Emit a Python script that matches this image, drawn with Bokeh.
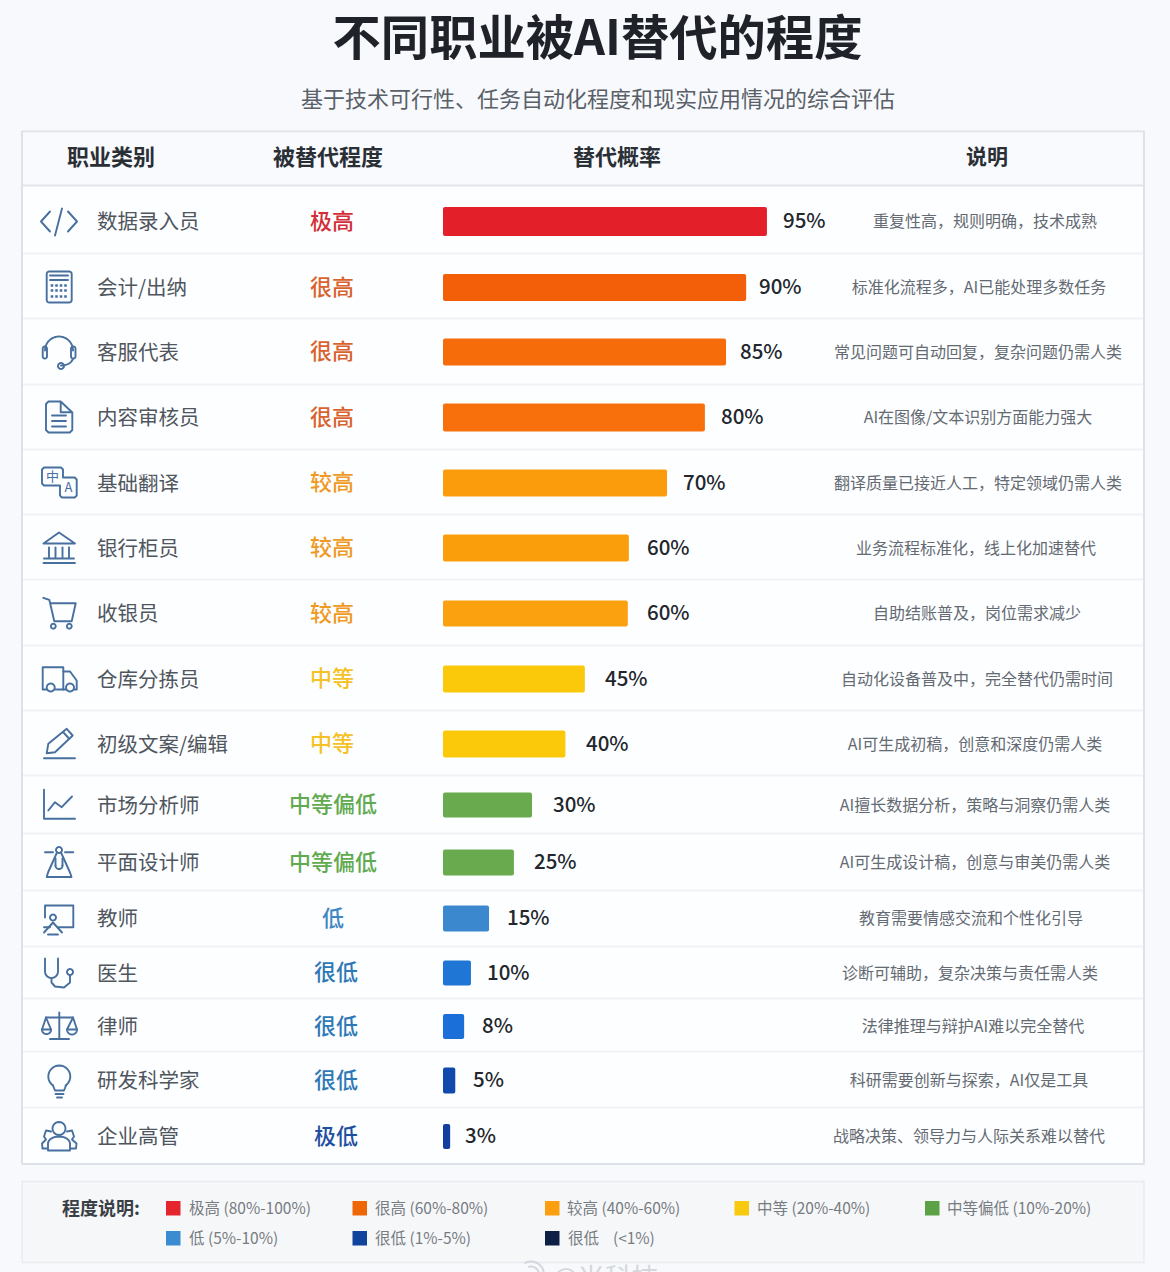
import math
from bokeh.plotting import figure
from bokeh.models import Range1d, ColumnDataSource
from bokeh.core.properties import value
from bokeh.embed import file_html
from bokeh.resources import INLINE

# ---------- data ----------
title = "不同职业被AI替代的程度"
subtitle = "基于技术可行性、任务自动化程度和现实应用情况的综合评估"
headers = ["职业类别", "被替代程度", "替代概率", "说明"]
jobs = ["数据录入员", "会计/出纳", "客服代表", "内容审核员", "基础翻译", "银行柜员", "收银员", "仓库分拣员",
        "初级文案/编辑", "市场分析师", "平面设计师", "教师", "医生", "律师", "研发科学家", "企业高管"]
levels = ["极高", "很高", "很高", "很高", "较高", "较高", "较高", "中等", "中等", "中等偏低", "中等偏低",
          "低", "很低", "很低", "很低", "极低"]
pct_labels = ["95%", "90%", "85%", "80%", "70%", "60%", "60%", "45%", "40%", "30%", "25%", "15%", "10%", "8%", "5%", "3%"]
# bar lengths as drawn in the picture (the source's bars are not strictly proportional to their labels)
bar_values = [95.0, 88.9, 83.0, 76.8, 65.7, 54.5, 54.2, 41.6, 35.9, 26.1, 20.8, 13.5, 8.2, 6.2, 3.6, 2.1]
notes = ["重复性高，规则明确，技术成熟", "标准化流程多，AI已能处理多数任务", "常见问题可自动回复，复杂问题仍需人类",
         "AI在图像/文本识别方面能力强大", "翻译质量已接近人工，特定领域仍需人类", "业务流程标准化，线上化加速替代",
         "自助结账普及，岗位需求减少", "自动化设备普及中，完全替代仍需时间", "AI可生成初稿，创意和深度仍需人类",
         "AI擅长数据分析，策略与洞察仍需人类", "AI可生成设计稿，创意与审美仍需人类", "教育需要情感交流和个性化引导",
         "诊断可辅助，复杂决策与责任需人类", "法律推理与辩护AI难以完全替代", "科研需要创新与探索，AI仅是工具",
         "战略决策、领导力与人际关系难以替代"]
legend_title = "程度说明:"
legend_labels = ["极高 (80%-100%)", "很高 (60%-80%)", "较高 (40%-60%)", "中等 (20%-40%)", "中等偏低 (10%-20%)",
                 "低 (5%-10%)", "很低 (1%-5%)", "很低\u00a0\u00a0\u00a0\u00a0(<1%)"]
watermark = "@米科技"

# ---------- styles / layout ----------
FONT = value("Noto Sans CJK SC")
MEDIUM = value("Noto Sans CJK SC Medium")
bar_colors = ["#e32029", "#f25f08", "#f76c0a", "#f7700c", "#fb9c0c", "#fb9e0c", "#fba00e", "#fcc80a", "#fcc80a",
              "#6aaa4f", "#6aaa4f", "#3b88cf", "#1f76d4", "#1a6fd8", "#1149ad", "#123f9f"]
level_colors = ["#d42f38", "#d9632f", "#d9632f", "#d9632f", "#ee9a24", "#ee9a24", "#ee9a24", "#f4c226", "#f4c226",
                "#62aa50", "#62aa50", "#3f86c4", "#2f78b6", "#2f78b6", "#2f78b6", "#1f4f9f"]
legend_colors = ["#e5252e", "#ee6606", "#fb9e0f", "#f9c90e", "#5ba246", "#3b8bd0", "#0f439c", "#0e1f45"]
row_y = [221, 287, 351.5, 417, 482.5, 547.5, 613, 678.5, 743.5, 804.5, 862, 918, 972.5, 1026, 1080, 1136]
bar_h = [29, 27, 27, 28, 27, 27, 26, 27, 27, 25, 26, 26, 25, 25, 26, 25]
seps = [253, 318, 384, 449, 514, 579, 645, 710, 775, 833, 890, 946, 998, 1051, 1107]
label_x = [783, 759, 740, 721, 683, 647, 647, 605, 586, 553, 534, 507, 487, 482, 473, 465]
level_x = [332, 332, 332, 332, 332, 332, 332, 332, 332, 333, 333, 333, 336, 336, 336, 336]
note_x = [985, 979, 978, 978, 978, 976, 977, 977, 975, 975, 975, 971, 970, 973, 969, 969]
header_x = [111, 328, 617, 987]
leg_x = [166, 352.5, 545, 734.5, 925, 166, 352.5, 545]
leg_tx = [189, 375, 567, 757, 947, 189, 375, 568]
leg_y = [1208] * 5 + [1238] * 3
INK = "#48709f"
WM = "#d3d7dd"
BG = "#f7f9fc"

W, H = 1170, 1272
PX = 3.41          # pixels per percentage point
X0 = 443           # zero of the bar scale
S0 = 0.5           # sub-pixel registration of the page

# the main ranges are the picture's own pixels, the bars use a percentage range on top
p = figure(width=W, height=H, x_range=Range1d(S0, W + S0), y_range=Range1d(H, 0),
           output_backend="svg", toolbar_location=None, min_border=0, outline_line_color=None,
           background_fill_color=BG, border_fill_color=BG)
p.axis.visible = False
p.grid.visible = False
p.extra_x_ranges["pct"] = Range1d((S0 - X0) / PX, (W + S0 - X0) / PX)


def text(x, y, t, size, color, bold=False, align="center"):
    p.text([x], [y], text=[t], text_font=FONT, text_font_size=f"{size}px", text_color=color,
           text_font_style="bold" if bold else "normal", text_align=align, text_baseline="middle")


# frames
p.quad(left=[22], right=[1144], top=[131], bottom=[1163.5], fill_color="#fdfeff", line_color="#dde1e8", line_width=2)
p.quad(left=[23], right=[1143], top=[132], bottom=[185], fill_color="#f9fafd", line_color=None)
p.segment([22], [185], [1144], [185], line_color="#e1e5eb", line_width=2)
p.segment([23] * len(seps), seps, [1143] * len(seps), seps, line_color="#f0f2f6", line_width=2)
p.quad(left=[22], right=[1144], top=[1181], bottom=[1262], fill_color="#f6f7f9", line_color="#e9ebf0", line_width=1.5)

# titles
text(597.5, 33, title, 48.3, "#1f2329", bold=True)
text(598, 96, subtitle, 22, "#596068")
for hx, h in zip(header_x, headers):
    text(hx, 154, h, 22 if len(h) != 2 else 21, "#2a2f36", bold=True)

# rows
src = ColumnDataSource(dict(y=row_y, h=bar_h, right=bar_values, left=[0] * 16, c=bar_colors))
p.hbar(y="y", height="h", left="left", right="right", fill_color="c", line_color=None, border_radius=2,
       source=src, x_range_name="pct")
p.text(x=[97] * 16, y=[y - 1.5 for y in row_y], text=jobs, text_font=FONT, text_font_size="20.5px", text_color="#50565e",
       text_align="left", text_baseline="middle")
p.text(x=level_x, y=[y - 3 for y in row_y], text=levels, text_font=MEDIUM, text_font_size="22px", text_color=level_colors,
       text_align="center", text_baseline="middle")
p.text(x=label_x, y=[y - 2.5 for y in row_y], text=pct_labels, text_font=MEDIUM, text_font_size="20.5px",
       text_color="#23272d", text_align="left", text_baseline="middle")
p.text(x=note_x, y=[y - 1.5 for y in row_y], text=notes, text_font=FONT, text_font_size="16px", text_color="#646a72",
       text_align="center", text_baseline="middle")

# legend
text(62, 1206, legend_title, 18, "#3a3f46", bold=True, align="left")
for x, tx, y, c, t in zip(leg_x, leg_tx, leg_y, legend_colors, legend_labels):
    p.quad(left=[x], right=[x + 14.5], top=[y - 7.5], bottom=[y + 7], fill_color=c, line_color=None)
    text(tx, y - 2, t, 15.5, "#777c83", align="left")


# ---------- icons (decoration, stroked in the picture's pixels) ----------
def arc(cx, cy, r, a0, a1, ry=None, n=24):
    ry = r if ry is None else ry
    return [(cx + r * math.cos(math.radians(a0 + (a1 - a0) * i / n)),
             cy + ry * math.sin(math.radians(a0 + (a1 - a0) * i / n))) for i in range(n + 1)]


def rrect(x0, y0, x1, y1, r=2.5):
    return (arc(x0 + r, y0 + r, r, 180, 270, n=5) + arc(x1 - r, y0 + r, r, 270, 360, n=5) +
            arc(x1 - r, y1 - r, r, 0, 90, n=5) + arc(x0 + r, y1 - r, r, 90, 180, n=5) + [(x0, y0 + r)])


strokes = [
    # code
    [(50, 211), (41, 221), (50, 231)], [(62, 208), (55, 235)], [(68, 211), (77, 221), (68, 231)],
    # calculator
    rrect(46.7, 271, 71.7, 302), [(50, 275), (68, 275)], [(50, 279.5), (68, 279.5)],
    # headset
    arc(59, 350, 14, 180, 360), rrect(42.7, 346, 47, 358, 2), rrect(71, 346, 75.5, 358, 2),
    arc(61, 357, 12, 10, 90, ry=8), arc(61, 365.5, 3, 0, 360),
    # document
    [(60.7, 401), (48.5, 401), (46, 403.5), (46, 429.5), (48.5, 432), (69.8, 432), (72.3, 429.5), (72.3, 412), (60.7, 401), (60.7, 411.7), (72.3, 411.7)],
    [(52, 415), (66, 415)], [(52, 420.5), (66, 420.5)], [(52, 426), (66, 426)],
    # translate: one outline, back panel stepping into the front panel
    [(60, 485), (44, 485), (42, 483), (42, 469), (44, 467), (61, 467), (63, 469), (63, 477), (74.7, 477), (76.7, 479),
     (76.7, 495), (74.7, 497), (62, 497), (60, 495), (60, 485)],
    # bank
    [(43.5, 543), (59, 532), (75, 543), (43.5, 543)], [(49, 547), (49, 557)], [(55.5, 547), (55.5, 557)],
    [(62.5, 547), (62.5, 557)], [(69, 547), (69, 557)], [(44, 558), (74, 558)], [(43.5, 562.5), (75, 562.5)],
    # cart
    [(43.3, 597.3), (49.3, 599.3), (54.3, 620.7), (71.7, 620.7), (75.7, 602.7), (50.3, 602.7)],
    arc(53.3, 625.7, 2.4, 0, 360), arc(69.3, 625.7, 2.4, 0, 360),
    # truck
    [(46.5, 689), (42.7, 689), (42.7, 666.7), (63.3, 666.7), (63.3, 689), (55, 689)],
    [(63.3, 671), (70, 671), (76.7, 680), (76.7, 689), (74, 689)], [(66, 689), (63.3, 689)],
    arc(50.7, 687, 4, 0, 360), arc(70, 687, 4, 0, 360),
    # pencil
    [(46.7, 752.7), (48.3, 743.3), (66.7, 728.3), (72.7, 735), (55, 751.7), (46.7, 752.7)], [(63, 731.5), (69, 738)], [(44, 757.7), (75, 757.7)],
    # trend
    [(44, 789.3), (44, 818.3), (75, 818.3)], [(48.3, 810), (55, 801.7), (61.7, 806.7), (72, 796)],
    # design tool
    [(45, 851.7), (53, 851.7)], [(65, 851.7), (73.3, 851.7)], arc(59, 849.5, 3, 0, 360), [(57, 852), (48, 872), (46.7, 876.5), (71.5, 876.5), (70, 872), (61, 852)],
    arc(59, 865, 3.5, 0, 180), [(55.5, 865), (55.5, 858)], [(62.5, 865), (62.5, 858)],
    # teacher
    [(45, 917), (45, 905), (73.3, 905), (73.3, 926.7), (58, 926.7)], arc(53, 917, 3, 0, 360), [(44, 932), (53, 922), (62, 932)], [(44, 926.7), (50, 926.7)], [(48, 934), (58, 934)],
    # stethoscope
    [(45, 958), (45, 971)] + arc(51.5, 971, 6.5, 180, 0, n=16) + [(58, 958)],
    [(51.5, 978), (51.5, 982), (55, 986), (64, 987), (70, 982), (70, 974.5)],
    arc(70, 971.5, 3, 0, 360),
    # scales
    [(59.3, 1012), (59.3, 1038)], [(50, 1038.5), (69, 1038.5)], [(46, 1017), (73, 1017)], [(46, 1017), (42, 1029), (51, 1029), (46, 1017)], [(73, 1017), (67, 1029), (77, 1029), (73, 1017)],
    arc(46.5, 1029, 4.6, 0, 180), arc(72, 1029, 5, 0, 180),
    # bulb
    arc(59.3, 1076, 11, 125, 415), [(53, 1085), (55, 1090), (64, 1090), (66, 1085)], [(55.5, 1093.5), (63.5, 1093.5)], [(57, 1097), (62, 1097)],
    # people
    arc(59, 1128, 6.5, 0, 360), [(48, 1150), (48, 1143)] + arc(59, 1143, 11, 180, 360, ry=7, n=12) + [(70, 1150), (48, 1150)],
    [(51, 1131), (46, 1130), (44, 1136), (46, 1139), (42, 1143), (42.5, 1148), (47, 1148)],
    [(67, 1131), (72, 1130), (74, 1136), (72, 1139), (76.5, 1143), (76, 1148), (71, 1148)],
]
p.multi_line([[q[0] for q in s] for s in strokes], [[q[1] for q in s] for s in strokes],
             line_color=INK, line_width=1.9, line_join="round", line_cap="round")

# calculator keys and translate glyphs
kx = [x for x in (52, 56.5, 61, 65.5) for _ in range(3)]
ky = [285, 290, 296] * 4
p.scatter(kx, ky, size=2.6, marker="square", fill_color=INK, line_color=None)
text(52.5, 474.5, "中", 13, INK)
text(68.5, 486, "A", 13, INK)

# watermark, cut by the bottom edge as in the source image
text(552, 1276, watermark, 27, WM, align="left")
wm_arcs = [arc(531, 1274, 13, 240, 360, n=10), arc(531, 1274, 8, 250, 350, n=8)]
p.multi_line([[q[0] for q in a] for a in wm_arcs], [[q[1] for q in a] for a in wm_arcs], line_color=WM, line_width=2)

html = file_html(p, INLINE).replace("</head>", f"<style>html,body{{background:{BG};overflow:hidden}}</style></head>", 1)
open("out.html", "w").write(html)
